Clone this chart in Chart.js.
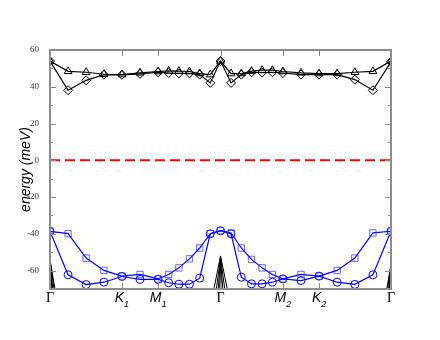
<!DOCTYPE html>
<html>
<head>
<meta charset="utf-8">
<script src="https://cdn.jsdelivr.net/npm/chart.js@4"></script>
<style>
html, body { margin: 0; padding: 0; background: #fff; }
</style>
</head>
<body>
<canvas id="bands" width="440" height="340"></canvas>
<script>
// positions along the k-path (fraction of total path length)
const kpos = [0, 0.053, 0.106, 0.158, 0.211, 0.264, 0.317, 0.348, 0.378, 0.409, 0.439, 0.470,
              0.5, 0.531, 0.561, 0.591, 0.622, 0.652, 0.683, 0.736, 0.789, 0.842, 0.894, 0.947, 1.0];

// high-symmetry points
const pathTicks = [0, 0.211, 0.317, 0.5, 0.683, 0.789, 1];
const pathLabels = [['Γ', ''], ['K', '1'], ['M', '1'], ['Γ', ''], ['M', '2'], ['K', '2'], ['Γ', '']];

// upper branches (meV)
const diamonds = [54, 38.1, 43.5, 46.6, 46.5, 47.0, 47.9, 47.5, 47.3, 47.3, 46.6, 42.1,
                  54, 42.1, 46.6, 47.9, 47.7, 47.9, 47.5, 46.6, 46.6, 46.6, 43.9, 38.1, 53.6];
const triangles = [54, 48.4, 47.9, 46.8, 46.6, 47.6, 48.3, 48.6, 48.5, 48.3, 47.2, 46.6,
                   54, 47.2, 47.2, 48.5, 49.0, 49.0, 48.3, 47.6, 47.2, 47.2, 47.9, 48.4, 54];

// lower branches (meV)
const squares = [-38.6, -39.9, -53.2, -59.9, -63.0, -62.1, -64.5, -62.1, -58.5, -53.6, -47.7, -39.9,
                 -38.3, -39.5, -47.7, -53.9, -58.5, -62.1, -64.5, -62.1, -63.0, -59.9, -53.2, -39.5, -38.6];
const circles = [-38.6, -62.3, -67.6, -66.3, -63.2, -64.8, -64.8, -66.6, -67.4, -67.4, -64.1, -40.0,
                 -38.3, -40.0, -63.6, -67.2, -67.2, -66.3, -64.5, -65.4, -63.0, -66.3, -67.5, -62.3, -38.6];

// branches that dive below the plotted window (only the tips near Γ show)
const low1 = [-54, -112, -300, -300, -300, -300, -300, -300, -300, -300, -300, -80,
              -52, -80, -300, -300, -300, -300, -300, -300, -300, -300, -300, -112, -57];
const low2 = [-54, -126, -300, -300, -300, -300, -300, -300, -300, -300, -300, -95,
              -53, -95, -300, -300, -300, -300, -300, -300, -300, -300, -300, -126, -57];
const low3 = [-55, -150, -300, -300, -300, -300, -300, -300, -300, -300, -300, -125,
              -54, -125, -300, -300, -300, -300, -300, -300, -300, -300, -300, -150, -58];
const low4 = [-55, -200, -300, -300, -300, -300, -300, -300, -300, -300, -300, -230,
              -55, -230, -300, -300, -300, -300, -300, -300, -300, -300, -300, -200, -58];

const zeroLine = [0, 0];

const pts = arr => arr.map((v, i) => ({ x: kpos[i], y: v }));

function branch(values, color, markColor, style, radius) {
    return {
        data: pts(values),
        borderColor: color,
        borderWidth: 1.2,
        pointStyle: style,
        pointRadius: radius,
        pointBorderColor: markColor,
        pointBackgroundColor: 'rgba(0,0,0,0)',
        pointBorderWidth: 1,
        tension: 0
    };
}

function lowBranch(values) {
    return { data: pts(values), borderColor: '#000', borderWidth: 1, pointRadius: 0, tension: 0 };
}

// frame, inside ticks and k-point labels
const framePlugin = {
    id: 'frame',
    afterDraw(chart) {
        const { ctx, chartArea: a, scales: { x, y } } = chart;
        ctx.save();
        ctx.strokeStyle = '#8c8c8c';
        ctx.lineWidth = 2;
        ctx.strokeRect(a.left, a.top, a.right - a.left, a.bottom - a.top);

        ctx.lineWidth = 1;
        ctx.beginPath();
        y.ticks.forEach(t => {
            const py = Math.round(y.getPixelForValue(t.value)) + 0.5;
            const len = t.value % 20 === 0 ? 6 : 3;
            ctx.moveTo(a.left, py); ctx.lineTo(a.left + len, py);
            ctx.moveTo(a.right, py); ctx.lineTo(a.right - len, py);
        });
        pathTicks.slice(1, -1).forEach(v => {
            const px = Math.round(x.getPixelForValue(v)) + 0.5;
            ctx.moveTo(px, a.top); ctx.lineTo(px, a.top + 6);
            ctx.moveTo(px, a.bottom); ctx.lineTo(px, a.bottom - 6);
        });
        ctx.stroke();

        ctx.fillStyle = '#000';
        ctx.textBaseline = 'alphabetic';
        const base = a.bottom + 13;
        pathTicks.forEach((v, i) => {
            const [main, sub] = pathLabels[i];
            const px = x.getPixelForValue(v);
            const mainFont = main === 'Γ' ? '14px "Liberation Serif"' : 'italic 14px "Liberation Sans"';
            const subFont = 'italic 9px "Liberation Sans"';
            ctx.font = mainFont;
            const wm = ctx.measureText(main).width;
            ctx.font = subFont;
            const ws = sub ? ctx.measureText(sub).width : 0;
            const left = px - (wm + ws) / 2;
            ctx.font = mainFont;
            ctx.textAlign = 'left';
            ctx.fillText(main, left, base);
            if (sub) {
                ctx.font = subFont;
                ctx.fillText(sub, left + wm, base + 5);
            }
        });
        ctx.restore();
    }
};

new Chart(document.getElementById('bands'), {
    type: 'line',
    data: {
        datasets: [
            lowBranch(low1), lowBranch(low2), lowBranch(low3), lowBranch(low4),
            {
                data: [{ x: 0, y: zeroLine[0] }, { x: 1, y: zeroLine[1] }],
                borderColor: '#ff0000',
                borderWidth: 2,
                borderDash: [10, 5],
                pointRadius: 0
            },
            branch(diamonds, '#000', '#000', 'rectRot', 4.5),
            branch(triangles, '#000', '#000', 'triangle', 4.5),
            branch(squares, '#0000ff', 'rgba(40,40,255,0.7)', 'rect', 4.5),
            branch(circles, '#0000ff', '#0000ff', 'circle', 4)
        ]
    },
    options: {
        responsive: false,
        devicePixelRatio: 1,
        animation: false,
        layout: { padding: { top: 50, right: 49, bottom: 51, left: 0 } },
        plugins: { legend: { display: false }, tooltip: { enabled: false } },
        scales: {
            x: { type: 'linear', min: 0, max: 1, display: false },
            y: {
                min: -70,
                max: 60,
                afterFit: s => { s.width = 50; },
                grid: { display: false },
                border: { display: false },
                ticks: {
                    stepSize: 10,
                    padding: 3,
                    color: '#333',
                    font: { family: 'Liberation Serif', size: 9 },
                    callback: v => (v % 20 === 0 && v > -70 ? String(v) : '')
                },
                title: {
                    display: true,
                    text: 'energy (meV)',
                    color: '#000',
                    font: { family: 'Liberation Sans', style: 'italic', size: 14 },
                    padding: { top: 18, bottom: 0 }
                }
            }
        }
    },
    plugins: [framePlugin]
});
</script>
</body>
</html>
